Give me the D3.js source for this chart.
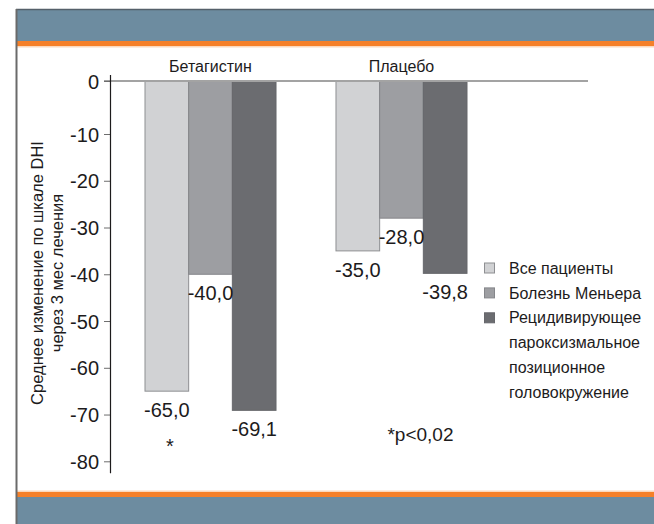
<!DOCTYPE html>
<html lang="ru">
<head>
    <meta charset="UTF-8">
    <title>Среднее изменение по шкале DHI</title>
    <script src="https://d3js.org/d3.v7.min.js"></script>
    <style>
        body{ margin:0; background:#fff; }
        svg{ display:block; font-family:"Liberation Sans", Arial, sans-serif; }
        g.axis{ font-size:20px; }
        g.axis text{ fill:#1d1b1c; font-family:"Liberation Sans", Arial, sans-serif; }
        g.axis line{ stroke:#6d6d6d; }
    </style>
</head>
<body>
<svg width="654" height="524" viewBox="0 0 654 524"></svg>
<script>
    // data
    const groups = ["Бетагистин", "Плацебо"];
    const series = ["Все пациенты", "Болезнь Меньера", "Рецидивирующее пароксизмальное позиционное головокружение"];
    const betahistineValues = [-65.0, -40.0, -69.1];
    const placeboValues = [-35.0, -28.0, -39.8];
    const yTicks = [0, -10, -20, -30, -40, -50, -60, -70, -80];
    const legendLines = [["Все пациенты"], ["Болезнь Меньера"],
        ["Рецидивирующее", "пароксизмальное", "позиционное", "головокружение"]];
    const yTitle = ["Среднее изменение по шкале DHI", "через 3 мес лечения"];
    const note = "*p<0,02";
    const significant = [{group: "Бетагистин", series: 0}];

    const fills = ["#d1d2d4", "#9d9ea2", "#6b6c70"];
    const strokes = ["#8e8f92", "#85868a", "#66676b"];
    const ink = "#1d1b1c";

    const svg = d3.select("svg");
    const W = 654, H = 524;

    const ru = d3.formatLocale({decimal: ",", thousands: " ", grouping: [3], currency: ["", ""], minus: "-"});
    const fmt1 = ru.format(".1f");

    const rows = [];
    groups.forEach((g, gi) => {
        const vals = gi === 0 ? betahistineValues : placeboValues;
        vals.forEach((v, si) => rows.push({group: g, s: si, value: v}));
    });

    // ---- frame / decoration bands
    svg.append("rect").attr("x", 16).attr("y", 9).attr("width", W - 16).attr("height", 33).attr("fill", "#6d8ca0");
    svg.append("line").attr("x1", 16).attr("x2", W).attr("y1", 9.5).attr("y2", 9.5).attr("stroke", "#55606a").attr("stroke-width", 1.5);
    svg.append("rect").attr("x", 16).attr("y", 41).attr("width", W - 16).attr("height", 5).attr("fill", "#f58029");
    svg.append("rect").attr("x", 16).attr("y", 46).attr("width", W - 16).attr("height", 1.5).attr("fill", "#fbd9bd");
    svg.append("rect").attr("x", 16).attr("y", 490.5).attr("width", W - 16).attr("height", 1.5).attr("fill", "#fbd9bd");
    svg.append("rect").attr("x", 16).attr("y", 492).attr("width", W - 16).attr("height", 5).attr("fill", "#f58029");
    svg.append("rect").attr("x", 16).attr("y", 497).attr("width", W - 16).attr("height", H - 497).attr("fill", "#6d8ca0");
    svg.append("line").attr("x1", 16.5).attr("x2", 16.5).attr("y1", 9).attr("y2", H).attr("stroke", "#6a6a6a").attr("stroke-width", 2);

    // ---- scales
    // the original axis is drawn with the zero line slightly above the regular grid
    const y = d3.scaleLinear().domain([0, -10, -80]).range([81, 134, 461.3]);
    const x0 = d3.scaleBand().domain(groups).range([145, 467]).paddingInner(0.314);
    const x1 = d3.scaleBand().domain(d3.range(series.length)).range([0, x0.bandwidth()]);

    const axisX = 110;

    // ---- bars
    const chart = svg.append("g");
    chart.selectAll("rect.bar")
        .data(rows)
        .enter().append("rect")
        .attr("class", "bar")
        .attr("x", d => x0(d.group) + x1(d.s))
        .attr("y", y(0))
        .attr("width", x1.bandwidth())
        .attr("height", d => y(d.value) - y(0))
        .attr("fill", d => fills[d.s])
        .attr("stroke", d => strokes[d.s])
        .attr("stroke-width", 1);

    // zero line
    chart.append("line")
        .attr("x1", axisX - 6).attr("x2", 588)
        .attr("y1", y(0)).attr("y2", y(0))
        .attr("stroke", "#a3a3a3").attr("stroke-width", 2);

    // value labels
    chart.selectAll("text.val")
        .data(rows)
        .enter().append("text")
        .attr("class", "val")
        .attr("x", d => x0(d.group) + x1(d.s) + x1.bandwidth() / 2)
        .attr("y", d => y(d.value) + 26)
        .attr("text-anchor", "middle")
        .attr("font-size", 20)
        .attr("fill", ink)
        .text(d => fmt1(d.value));

    // significance star
    chart.selectAll("text.star")
        .data(significant)
        .enter().append("text")
        .attr("class", "star")
        .attr("x", d => x0(d.group) + x1(d.series) + x1.bandwidth() / 2 + 3)
        .attr("y", d => y(rows.find(r => r.group === d.group && r.s === d.series).value) + 62)
        .attr("text-anchor", "middle")
        .attr("font-size", 20)
        .attr("fill", ink)
        .text("*");

    chart.append("text")
        .attr("x", x0("Плацебо") + x0.bandwidth() / 2 + 19)
        .attr("y", y(-75.6))
        .attr("text-anchor", "middle")
        .attr("font-size", 19)
        .attr("fill", ink)
        .text(note);

    // group titles
    chart.selectAll("text.grp")
        .data(groups)
        .enter().append("text")
        .attr("class", "grp")
        .attr("x", d => x0(d) + x0.bandwidth() / 2)
        .attr("y", 72)
        .attr("text-anchor", "middle")
        .attr("font-size", 16)
        .attr("fill", ink)
        .text(d => d);

    // ---- y axis
    const axis = chart.append("g")
        .attr("class", "axis")
        .attr("transform", `translate(${axisX},0)`)
        .call(d3.axisLeft(y).tickValues(yTicks).tickSize(6).tickPadding(5).tickFormat(ru.format("d")));
    axis.select(".domain").remove();
    axis.selectAll(".tick text").attr("dy", "0.36em");
    chart.append("line")
        .attr("x1", axisX + 0.5).attr("x2", axisX + 0.5)
        .attr("y1", y(0) - 6).attr("y2", y(-80) + 12)
        .attr("stroke", ink).attr("stroke-width", 1.2);

    // y title
    const yt = chart.append("text")
        .attr("transform", `translate(0,${273}) rotate(-90)`)
        .attr("text-anchor", "middle")
        .attr("font-size", 16.5)
        .attr("fill", ink);
    yTitle.forEach((t, i) => yt.append("tspan").attr("x", 0).attr("y", 43 + i * 20).text(t));

    // ---- legend
    const legend = svg.append("g").attr("transform", "translate(484,268)");
    const lineH = 24.9;
    let row = 0;
    legendLines.forEach((lines, i) => {
        const g = legend.append("g").attr("transform", `translate(0,${row * lineH})`);
        g.append("rect")
            .attr("x", 0.5).attr("y", -5)
            .attr("width", 10).attr("height", 10)
            .attr("fill", fills[i]).attr("stroke", strokes[i]);
        lines.forEach((t, k) => {
            g.append("text")
                .attr("x", 25).attr("y", k * lineH)
                .attr("dy", "0.35em")
                .attr("font-size", 16)
                .attr("fill", ink)
                .text(t);
        });
        row += lines.length;
    });
</script>
</body>
</html>
